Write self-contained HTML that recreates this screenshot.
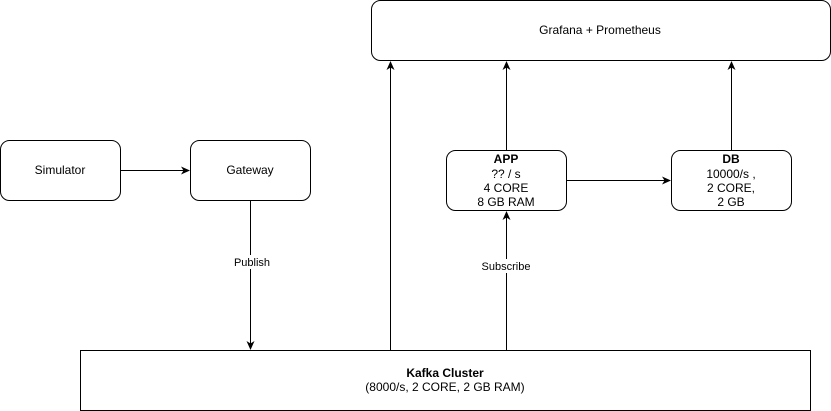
<!DOCTYPE html>
<html><head><style>body{margin:0;background:#fff}svg{display:block}text{font-family:"Liberation Sans",Arial,sans-serif;font-size:12px;fill:#000}</style></head>
<body>
<svg width="831" height="411" viewBox="0 0 831 411">
<defs><marker id="a" markerWidth="10" markerHeight="10" refX="8" refY="5" orient="auto" markerUnits="userSpaceOnUse"><path d="M0,1 L9,5 L0,9 L2.5,5 Z" fill="#000"/></marker></defs>
<g fill="#fff" stroke="#000" stroke-width="1">
<rect x="371.5" y="0.5" width="459" height="60" rx="9"/>
<rect x="0.5" y="140.5" width="120" height="60" rx="9"/>
<rect x="190.5" y="140.5" width="120" height="60" rx="9"/>
<rect x="446.5" y="150.5" width="120" height="60" rx="9"/>
<rect x="671.5" y="150.5" width="120" height="60" rx="9"/>
<rect x="80.5" y="350.5" width="730" height="60"/>
</g>
<g stroke="#000" stroke-width="1" fill="none" marker-end="url(#a)">
<path d="M120.5,170.5 H189"/>
<path d="M250.5,200.5 V349"/>
<path d="M390.5,350.5 V62"/>
<path d="M506.5,150.5 V62"/>
<path d="M731.5,150.5 V62"/>
<path d="M566.5,180.5 H670"/>
<path d="M506.5,350.5 V212"/>
</g>
<rect x="232" y="255" width="38" height="14" fill="#fff"/>
<rect x="480" y="259" width="52" height="14" fill="#fff"/>
<g text-anchor="middle" font-size="11">
<text x="600" y="34">Grafana + Prometheus</text>
<text x="60" y="174">Simulator</text>
<text x="250" y="174">Gateway</text>
<text x="252" y="266" style="font-size:11px">Publish</text>
<text x="506" y="270" style="font-size:11px">Subscribe</text>
<text x="506" y="163" font-weight="bold">APP</text>
<text x="506" y="178">?? / s</text>
<text x="506" y="192">4 CORE</text>
<text x="506" y="206">8 GB RAM</text>
<text x="731" y="163" font-weight="bold">DB</text>
<text x="731" y="178">10000/s ,</text>
<text x="731" y="192">2 CORE,</text>
<text x="731" y="206">2 GB</text>
<text x="445" y="377" font-weight="bold">Kafka Cluster</text>
<text x="445" y="391">(8000/s, 2 CORE, 2 GB RAM)</text>
</g>
</svg>
</body></html>
